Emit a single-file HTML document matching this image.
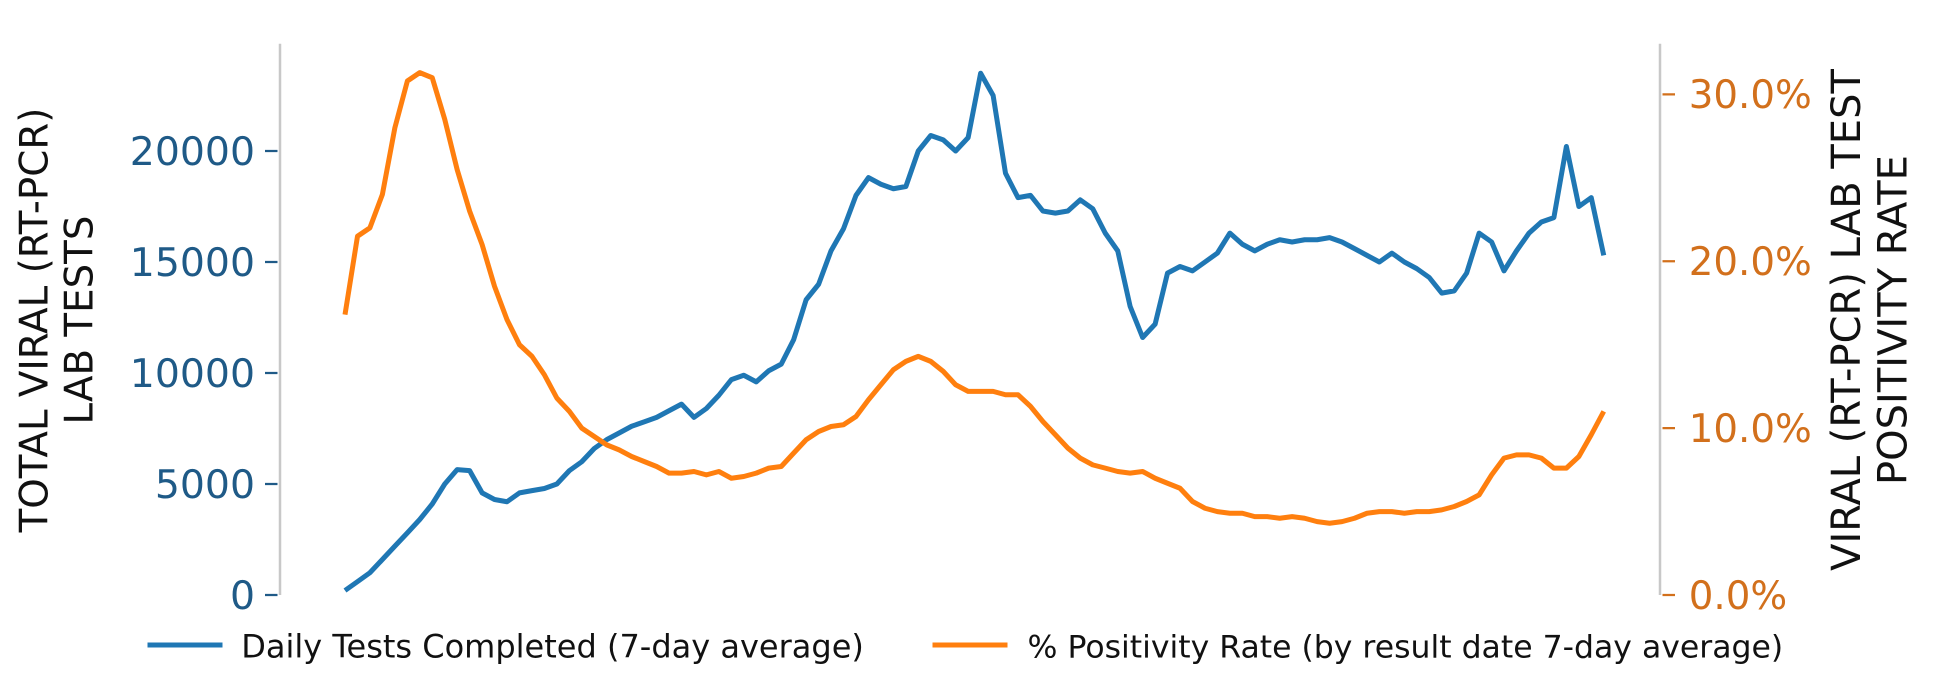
<!DOCTYPE html>
<html><head><meta charset="utf-8"><style>
html,body{margin:0;padding:0;background:#fff;}
svg{display:block;font-family:"DejaVu Sans","Liberation Sans",sans-serif;}
</style></head><body>
<svg id="chart" width="1952" height="691" viewBox="0 0 1561.6 552.8" xmlns="http://www.w3.org/2000/svg">
<g id="axes"></g>
<g id="series"></g>
<g id="legend">
  <line x1="118" y1="516" x2="178" y2="516" stroke="#1f77b4" stroke-width="4"/>
  <text x="193" y="526" font-size="25.6" fill="#111">Daily Tests Completed (7-day average)</text>
  <line x1="746" y1="516" x2="806" y2="516" stroke="#ff7f0e" stroke-width="4"/>
  <text x="822" y="526" font-size="25.2" fill="#111">% Positivity Rate (by result date 7-day average)</text>
</g>
<text transform="translate(38,256) rotate(-90)" text-anchor="middle" font-size="31" fill="#111"><tspan x="0" dy="0">TOTAL VIRAL (RT-PCR)</tspan><tspan x="0" dy="36">LAB TESTS</tspan></text>
<text transform="translate(1488,256) rotate(-90)" text-anchor="middle" font-size="32" fill="#111"><tspan x="0" dy="0">VIRAL (RT-PCR) LAB TEST</tspan><tspan x="0" dy="37">POSITIVITY RATE</tspan></text>
</svg>
<script>
const testsK = [0.2,0.6,1.0,1.6,2.2,2.8,3.4,4.1,5.0,5.65,5.6,4.6,4.3,4.2,4.6,4.7,4.8,5.0,5.6,6.0,6.6,7.0,7.3,7.6,7.8,8.0,8.3,8.6,8.0,8.4,9.0,9.7,9.9,9.6,10.1,10.4,11.5,13.3,14.0,15.5,16.5,18.0,18.8,18.5,18.3,18.4,20.0,20.7,20.5,20.0,20.6,23.5,22.5,19.0,17.9,18.0,17.3,17.2,17.3,17.8,17.4,16.3,15.5,13.0,11.6,12.2,14.5,14.8,14.6,15.0,15.4,16.3,15.8,15.5,15.8,16.0,15.9,16.0,16.0,16.1,15.9,15.6,15.3,15.0,15.4,15.0,14.7,14.3,13.6,13.7,14.5,16.3,15.9,14.6,15.5,16.3,16.8,17.0,20.2,17.5,17.9,15.3];
const positivity = [16.8,21.5,22.0,24.0,28.0,30.8,31.3,31.0,28.5,25.5,23.0,21.0,18.5,16.5,15.0,14.3,13.2,11.8,11.0,10.0,9.5,9.0,8.7,8.3,8.0,7.7,7.3,7.3,7.4,7.2,7.4,7.0,7.1,7.3,7.6,7.7,8.5,9.3,9.8,10.1,10.2,10.7,11.7,12.6,13.5,14.0,14.3,14.0,13.4,12.6,12.2,12.2,12.2,12.0,12.0,11.3,10.4,9.6,8.8,8.2,7.8,7.6,7.4,7.3,7.4,7.0,6.7,6.4,5.6,5.2,5.0,4.9,4.9,4.7,4.7,4.6,4.7,4.6,4.4,4.3,4.4,4.6,4.9,5.0,5.0,4.9,5.0,5.0,5.1,5.3,5.6,6.0,7.2,8.2,8.4,8.4,8.2,7.6,7.6,8.3,9.6,11.0];
const leftTicks = [0,5000,10000,15000,20000];
const rightTicks = [0,10,20,30];
const rightTickLabels = ["0.0%","10.0%","20.0%","30.0%"];

const NS="http://www.w3.org/2000/svg";
const X0=276, X1=1283, Y0=476;
function xPos(i,n){return X0+(X1-X0)*i/(n-1);}
function yLeft(v){return Y0 - v/5000*88.8;}
function yRight(p){return Y0 - p*13.35;}
function mk(tag,attrs,parent){const e=document.createElementNS(NS,tag);for(const k in attrs)e.setAttribute(k,attrs[k]);parent.appendChild(e);return e;}
const axes=document.getElementById('axes'), ser=document.getElementById('series');

const ls=mk('line',{x1:224,y1:35,x2:224,y2:476,stroke:'#c8c8c8','stroke-width':2},axes);


const rs=mk('line',{x1:1328,y1:35,x2:1328,y2:476,stroke:'#c8c8c8','stroke-width':2},axes);



leftTicks.forEach(v=>{
  const y=yLeft(v);
  const t=mk('line',{x1:212,y1:y,x2:222,y2:y,stroke:'#1f5a87','stroke-width':1.8},axes);
  
  
  const l=mk('text',{x:204,y:y+11,'text-anchor':'end','font-size':31.5,fill:'#1f5a87'},axes);
  
  
  l.textContent=String(v);
});
rightTicks.forEach((p,i)=>{
  const y=yRight(p);
  const t=mk('line',{x1:1330,y1:y,x2:1340,y2:y,stroke:'#d2701c','stroke-width':1.8},axes);
  
  
  const l=mk('text',{x:1351,y:y+11,'font-size':31,fill:'#d2701c'},axes);
  
  
  l.textContent=rightTickLabels[i];
});

function pathFor(arr,yf){return arr.map((v,i)=>(i?'L':'M')+xPos(i,arr.length).toFixed(1)+' '+yf(v).toFixed(1)).join(' ');}
const ob=mk('path',{d:pathFor(testsK.map(v=>v*1000),yLeft),fill:'none',stroke:'#1f77b4','stroke-width':4,'stroke-linejoin':'round'},ser);


const op=mk('path',{d:pathFor(positivity,yRight),fill:'none',stroke:'#ff7f0e','stroke-width':4,'stroke-linejoin':'round'},ser);


</script>
</body></html>
